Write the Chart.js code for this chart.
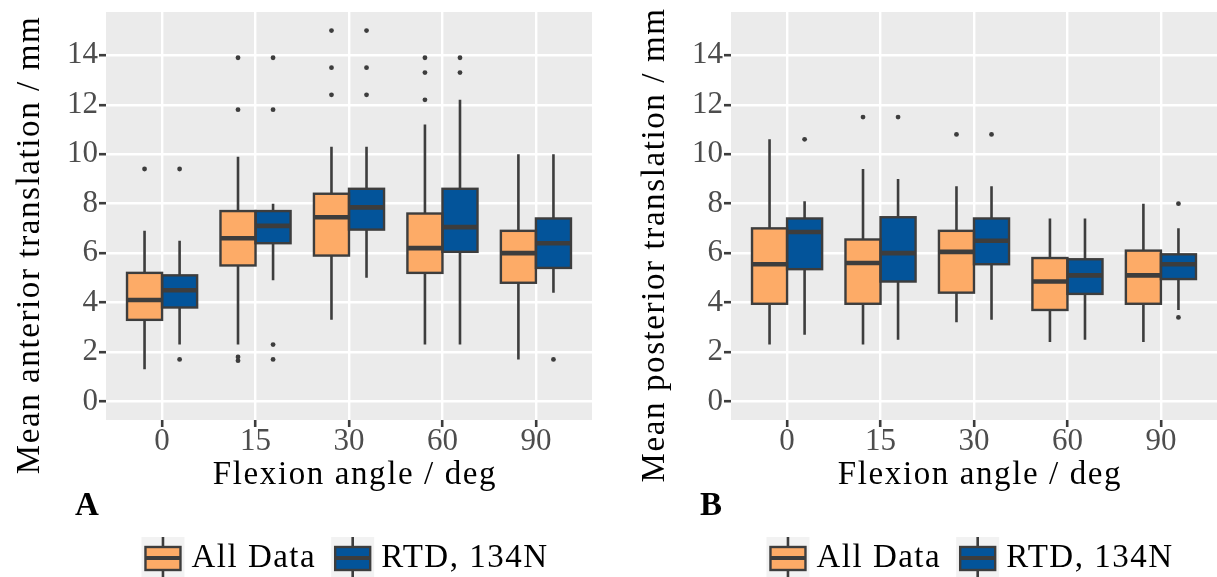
<!DOCTYPE html>
<html>
<head>
<meta charset="utf-8">
<script src="https://cdn.jsdelivr.net/npm/chart.js@4.4.1/dist/chart.umd.min.js"></script>
<style>
  html, body { margin: 0; padding: 0; background: #fff; }
  #wrap { position: relative; width: 1217px; height: 577px; overflow: hidden; }
  canvas { position: absolute; top: 0; }
  #anterior { left: 0; }
  #posterior { left: 625px; }
</style>
</head>
<body>
<div id="wrap">
  <canvas id="anterior" width="600" height="577"></canvas>
  <canvas id="posterior" width="592" height="577"></canvas>
</div>
<script>
var angles = ['0', '15', '30', '60', '90'];
var yTicks = [0, 2, 4, 6, 8, 10, 12, 14];
var seriesNames = ['All Data', 'RTD, 134N'];
var seriesColors = ['#fdab67', '#03549a'];

// per angle: [lower whisker, Q1, median, Q3, upper whisker]
var anteriorAll = [
    [1.3, 3.3, 4.1, 5.2, 6.9],
    [2.3, 5.5, 6.6, 7.7, 9.9],
    [3.3, 5.9, 7.45, 8.4, 10.3],
    [2.3, 5.2, 6.2, 7.6, 11.2],
    [1.7, 4.8, 6.0, 6.9, 10.0]
];
var anteriorAllOut = [[9.4], [13.9, 11.8, 1.8, 1.65], [15.0, 13.5, 12.4], [13.9, 13.3, 12.2], []];

var anteriorRtd = [
    [2.3, 3.8, 4.5, 5.1, 6.5],
    [4.9, 6.4, 7.1, 7.7, 8.0],
    [5.0, 6.95, 7.85, 8.6, 10.3],
    [2.3, 6.05, 7.05, 8.6, 12.2],
    [4.4, 5.4, 6.4, 7.4, 10.0]
];
var anteriorRtdOut = [[9.4, 1.7], [13.9, 11.8, 2.3, 1.7], [15.0, 13.5, 12.4], [13.9, 13.3], [1.7]];

var posteriorAll = [
    [2.3, 3.95, 5.55, 7.0, 10.6],
    [2.3, 3.95, 5.6, 6.55, 9.4],
    [3.2, 4.4, 6.05, 6.9, 8.7],
    [2.4, 3.7, 4.85, 5.8, 7.4],
    [2.4, 3.95, 5.1, 6.1, 8.0]
];
var posteriorAllOut = [[], [11.5], [10.8], [], []];

var posteriorRtd = [
    [2.7, 5.35, 6.85, 7.4, 8.1],
    [2.5, 4.85, 6.0, 7.45, 9.0],
    [3.3, 5.55, 6.5, 7.4, 8.7],
    [2.5, 4.35, 5.1, 5.75, 7.4],
    [3.7, 4.95, 5.55, 5.95, 7.0]
];
var posteriorRtdOut = [[10.6], [11.5], [10.8], [], [8.0, 3.4]];

var INK = '#3d3d3d';
var SERIF = '"Liberation Serif", "DejaVu Serif", serif';

function boxDataset(i, boxes, outliers) {
    return {
        label: seriesNames[i],
        backgroundColor: seriesColors[i],
        borderWidth: 0,
        categoryPercentage: 0.75,
        barPercentage: 1,
        data: boxes.map(function(b, k) {
            return { x: k, y: [b[1], b[3]], box: b, out: outliers[k] };
        })
    };
}

// whiskers, outlines, medians, outliers, titles and legend
var boxParts = {
    id: 'boxParts',
    beforeDraw: function(chart) {
        var a = chart.chartArea, ctx = chart.ctx;
        ctx.save();
        ctx.fillStyle = '#ebebeb';
        ctx.fillRect(a.left, a.top, a.right - a.left, a.bottom - a.top);
        ctx.restore();
    },
    beforeDatasetsDraw: function(chart) {
        var ctx = chart.ctx, y = chart.scales.y;
        ctx.save();
        ctx.strokeStyle = INK;
        ctx.lineWidth = 2.6;
        chart.data.datasets.forEach(function(ds, d) {
            chart.getDatasetMeta(d).data.forEach(function(bar, k) {
                var b = ds.data[k].box;
                ctx.beginPath();
                ctx.moveTo(bar.x, y.getPixelForValue(b[0]));
                ctx.lineTo(bar.x, y.getPixelForValue(b[1]));
                ctx.moveTo(bar.x, y.getPixelForValue(b[3]));
                ctx.lineTo(bar.x, y.getPixelForValue(b[4]));
                ctx.stroke();
            });
        });
        ctx.restore();
    },
    afterDatasetsDraw: function(chart) {
        var ctx = chart.ctx, y = chart.scales.y;
        ctx.save();
        ctx.strokeStyle = INK;
        ctx.fillStyle = INK;
        chart.data.datasets.forEach(function(ds, d) {
            chart.getDatasetMeta(d).data.forEach(function(bar, k) {
                var p = ds.data[k];
                var left = bar.x - bar.width / 2;
                var top = Math.min(bar.y, bar.base);
                ctx.lineWidth = 2.4;
                ctx.strokeRect(left, top, bar.width, Math.abs(bar.base - bar.y));
                ctx.lineWidth = 4.6;
                var m = y.getPixelForValue(p.box[2]);
                ctx.beginPath();
                ctx.moveTo(left, m);
                ctx.lineTo(left + bar.width, m);
                ctx.stroke();
                p.out.forEach(function(v) {
                    ctx.beginPath();
                    ctx.arc(bar.x, y.getPixelForValue(v), 2.4, 0, Math.PI * 2);
                    ctx.fill();
                });
            });
        });
        ctx.restore();
    },
    afterDraw: function(chart, args, opts) {
        var ctx = chart.ctx, a = chart.chartArea;
        var cx = (a.left + a.right) / 2;
        ctx.save();
        ctx.fillStyle = '#000';
        ctx.letterSpacing = '1.6px';
        ctx.font = '33px ' + SERIF;
        ctx.textAlign = 'center';
        ctx.textBaseline = 'middle';
        ctx.fillText(opts.xTitle, cx + 6, 475);

        ctx.save();
        ctx.translate(30, 245);
        ctx.rotate(-Math.PI / 2);
        ctx.fillText(opts.yTitle, 0, 0);
        ctx.restore();

        ctx.letterSpacing = '0px';
        ctx.font = 'bold 33px ' + SERIF;
        ctx.textAlign = 'left';
        ctx.textBaseline = 'alphabetic';
        ctx.fillText(opts.tag, 75, 515);

        // legend with small box glyphs
        ctx.letterSpacing = '1.5px';
        ctx.font = '33px ' + SERIF;
        ctx.textBaseline = 'middle';
        var keyW = 43, gapText = 7, gapItem = 15, midY = 558;
        var widths = chart.data.datasets.map(function(ds) {
            return keyW + gapText + ctx.measureText(ds.label).width;
        });
        var total = widths.reduce(function(s, w) { return s + w; }, 0) + gapItem * (widths.length - 1);
        var x = cx - total / 2 - 4;
        chart.data.datasets.forEach(function(ds, d) {
            ctx.fillStyle = '#f2f2f2';
            ctx.fillRect(x, 537, keyW, 42);
            ctx.strokeStyle = INK;
            ctx.lineWidth = 2.6;
            ctx.beginPath();
            ctx.moveTo(x + keyW / 2, 537);
            ctx.lineTo(x + keyW / 2, 578);
            ctx.stroke();
            ctx.fillStyle = ds.backgroundColor;
            ctx.fillRect(x + 4, 547, keyW - 8, 23);
            ctx.lineWidth = 2.4;
            ctx.strokeRect(x + 4, 547, keyW - 8, 23);
            ctx.lineWidth = 4.2;
            ctx.beginPath();
            ctx.moveTo(x + 4, midY);
            ctx.lineTo(x + keyW - 4, midY);
            ctx.stroke();
            ctx.fillStyle = '#000';
            ctx.fillText(ds.label, x + keyW + gapText, midY);
            x += widths[d] + gapItem;
        });
        ctx.restore();
    }
};

function makeChart(id, boxesA, outA, boxesB, outB, yTitle, tag, padRight) {
    return new Chart(document.getElementById(id), {
        type: 'bar',
        data: {
            datasets: [boxDataset(0, boxesA, outA), boxDataset(1, boxesB, outB)]
        },
        plugins: [boxParts],
        options: {
            responsive: false,
            animation: false,
            layout: { padding: { top: 12, right: padRight, bottom: 0, left: 0 } },
            plugins: {
                legend: { display: false },
                tooltip: { enabled: false },
                boxParts: { xTitle: 'Flexion angle / deg', yTitle: yTitle, tag: tag }
            },
            scales: {
                x: {
                    type: 'linear',
                    offset: false,
                    min: -0.6,
                    max: 4.6,
                    afterBuildTicks: function(scale) {
                        scale.ticks = angles.map(function(a, i) { return { value: i }; });
                    },
                    afterFit: function(scale) {
                        scale.height = 157;
                        scale.paddingLeft = 0;
                        scale.paddingRight = 0;
                    },
                    ticks: {
                        padding: -4,
                        color: '#4d4d4d',
                        font: { family: SERIF, size: 31 },
                        callback: function(v) { return angles[v]; }
                    },
                    grid: {
                        offset: false,
                        color: '#ffffff',
                        lineWidth: 2.4,
                        tickColor: INK,
                        tickWidth: 2.6,
                        tickLength: 7
                    },
                    border: { display: false }
                },
                y: {
                    min: -0.75,
                    max: 15.75,
                    afterBuildTicks: function(scale) {
                        var t = [];
                        for (var v = 0; v <= 15; v++) t.push({ value: v });
                        scale.ticks = t;
                    },
                    afterFit: function(scale) {
                        scale.width = 106;
                        scale.paddingTop = 0;
                        scale.paddingBottom = 0;
                    },
                    ticks: {
                        padding: 1,
                        color: '#4d4d4d',
                        font: { family: SERIF, size: 31 },
                        callback: function(v) { return yTicks.indexOf(v) >= 0 ? String(v) : ''; }
                    },
                    grid: {
                        color: '#ffffff',
                        lineWidth: function(c) { return yTicks.indexOf(c.tick.value) >= 0 ? 2.4 : 1.2; },
                        tickColor: function(c) { return yTicks.indexOf(c.tick.value) >= 0 ? INK : 'rgba(0,0,0,0)'; },
                        tickWidth: 2.6,
                        tickLength: 7
                    },
                    border: { display: false }
                }
            }
        }
    });
}

makeChart('anterior', anteriorAll, anteriorAllOut, anteriorRtd, anteriorRtdOut,
    'Mean anterior translation / mm', 'A', 8);
makeChart('posterior', posteriorAll, posteriorAllOut, posteriorRtd, posteriorRtdOut,
    'Mean posterior translation / mm', 'B', 0);
</script>
</body>
</html>
